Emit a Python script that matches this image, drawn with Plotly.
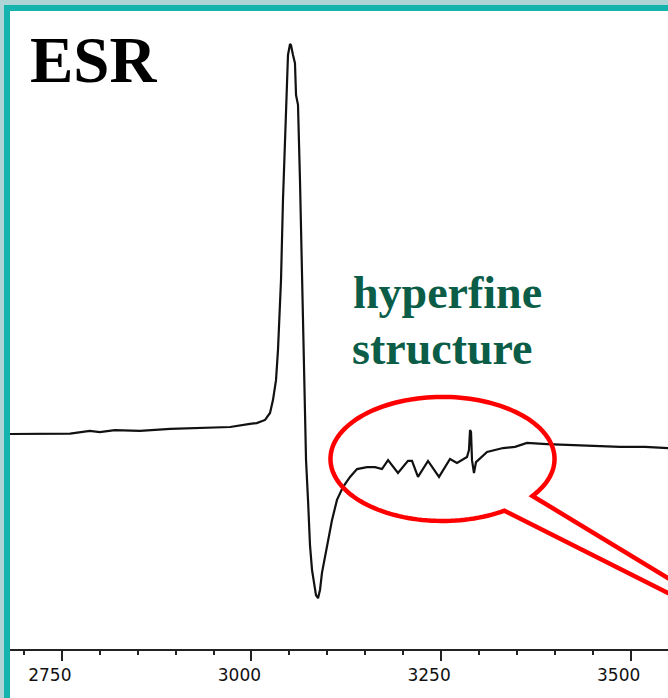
import numpy as np
import plotly.graph_objects as go

# ---------------- data ----------------
field_G = [2681.7, 2721, 2761, 2787, 2800, 2820, 2853, 2893, 2932, 2972,
           2998, 3007, 3018, 3024.5, 3028.4, 3032.4, 3035.0, 3039.0, 3041.6, 3044.3,
           3046.2, 3048.2, 3050.9, 3052.2, 3054.8, 3057.4, 3058.8, 3061.4, 3064.0, 3066.7,
           3069.3, 3070.6, 3072.0, 3074.6, 3077.2, 3079.9, 3082.5, 3085.1, 3087.8, 3090.4,
           3093.0, 3099.6, 3106.2, 3112.8, 3120.7, 3130.0, 3139.2, 3152.4, 3162.9, 3172.1,
           3180.1, 3193.2, 3206.4, 3211.7, 3219.6, 3232.8, 3247.3, 3261.8, 3271.0, 3284.2,
           3286.8, 3288.2, 3289.5, 3290.8, 3293.4, 3296.1, 3298.7, 3310.6, 3321.1, 3331.7,
           3347.5, 3363.3, 3389.7, 3416.1, 3446.4, 3485.9, 3518.9, 3549.2]
intensity = [0.0, 0.0, 0.1, 0.8, 0.5, 1.0, 0.8, 1.3, 1.5, 1.8,
             2.6, 2.8, 3.6, 5.4, 8.7, 13.8, 21.5, 39.5, 60.0, 77.9,
             88.2, 97.2, 100.0, 99.7, 97.2, 95.1, 86.9, 84.4, 65.1, 39.5,
             21.5, 8.7, -6.7, -16.9, -28.5, -34.9, -38.7, -41.3, -42.1, -40.0,
             -35.6, -29.0, -22.1, -16.9, -13.6, -11.0, -9.0, -8.5, -8.5, -9.0,
             -6.7, -10.0, -6.9, -6.9, -11.0, -6.9, -11.0, -6.4, -7.4, -5.9,
             -4.1, 1.0, 0.5, -6.7, -10.0, -7.2, -6.7, -4.6, -4.1, -3.6,
             -3.3, -2.3, -2.6, -2.8, -3.1, -3.3, -3.3, -3.6]

major_ticks = [2750, 3000, 3250, 3500]
tick_labels = ["2750", "3000", "3250", "3500"]
minor_step = 50

title_text = "ESR"
note_lines = ["hyperfine", "structure"]

# highlight ellipse around the hyperfine lines (data units)
ell_center = (3251.9, -6.4)
ell_semi = (147.7, 15.9)
tail_upper_end = (3591.4, -41.9)
tail_lower_end = (3591.4, -44.9)

# ---------------- layout constants ----------------
W, H = 668, 698
ML, MT, MR, MB = 10, 10, 0, 49
x_range = [2681.7, 3549.2]
y_range = [-55.13, 108.72]
PW, PH = W - ML - MR, H - MT - MB


def px_x(px):
    return (px - ML) / PW


def px_y(py):
    return (H - MB - py) / PH


fig = go.Figure()
fig.add_trace(go.Scatter(x=field_G, y=intensity, mode="lines",
                         line=dict(color="#111111", width=2.2),
                         hoverinfo="skip", showlegend=False))

shapes = []
light = "#aed4d6"
teal = "#14b3ae"
shapes.append(dict(type="rect", xref="paper", yref="paper", x0=px_x(0), x1=px_x(4),
                   y0=px_y(H), y1=px_y(0), fillcolor=light, line_width=0, layer="above"))
shapes.append(dict(type="rect", xref="paper", yref="paper", x0=px_x(0), x1=px_x(W),
                   y0=px_y(5), y1=px_y(0), fillcolor=light, line_width=0, layer="above"))
shapes.append(dict(type="rect", xref="paper", yref="paper", x0=px_x(4), x1=px_x(10),
                   y0=px_y(H), y1=px_y(5), fillcolor=teal, line_width=0, layer="above"))
shapes.append(dict(type="rect", xref="paper", yref="paper", x0=px_x(4), x1=px_x(W),
                   y0=px_y(11), y1=px_y(5), fillcolor=teal, line_width=0, layer="above"))

th = np.deg2rad(np.linspace(56.5, 396.6, 140))
ex = ell_center[0] + ell_semi[0] * np.cos(th)
ey = ell_center[1] - ell_semi[1] * np.sin(th)
path = "M {:.2f},{:.3f} ".format(*tail_lower_end)
path += " ".join("L {:.2f},{:.3f}".format(a, b) for a, b in zip(ex, ey))
path += " L {:.2f},{:.3f}".format(*tail_upper_end)
shapes.append(dict(type="path", xref="x", yref="y", path=path,
                   line=dict(color="#ff0000", width=4.5), layer="above"))

annotations = [
    dict(text="<b>%s</b>" % title_text, xref="paper", yref="paper",
         x=px_x(28), y=px_y(60), xanchor="left", yanchor="middle", showarrow=False,
         font=dict(family="Liberation Serif, Times New Roman, serif", size=65, color="#000000")),
    dict(text="<b>%s</b>" % note_lines[0], xref="paper", yref="paper",
         x=px_x(351), y=px_y(292), xanchor="left", yanchor="middle", showarrow=False,
         font=dict(family="Liberation Serif, Times New Roman, serif", size=46, color="#0b5d47")),
    dict(text="<b>%s</b>" % note_lines[1], xref="paper", yref="paper",
         x=px_x(350), y=px_y(348), xanchor="left", yanchor="middle", showarrow=False,
         font=dict(family="Liberation Serif, Times New Roman, serif", size=46, color="#0b5d47")),
]

fig.update_layout(
    width=W, height=H,
    margin=dict(l=ML, r=MR, t=MT, b=MB, pad=0),
    paper_bgcolor="#ffffff", plot_bgcolor="#ffffff",
    shapes=shapes, annotations=annotations, showlegend=False,
    xaxis=dict(range=x_range, showgrid=False, zeroline=False,
               showline=True, linecolor="#222222", linewidth=2,
               tickmode="array", tickvals=major_ticks, ticktext=tick_labels,
               ticks="outside", ticklen=10, tickwidth=1.6, tickcolor="#222222",
               ticklabelshift=-12,
               tickfont=dict(family="DejaVu Sans, sans-serif", size=17, color="#111111"),
               minor=dict(dtick=minor_step, tick0=2750, ticks="outside", ticklen=4,
                          tickwidth=1.6, tickcolor="#222222", showgrid=False)),
    yaxis=dict(range=y_range, visible=False, showgrid=False, zeroline=False),
)

fig.write_html("out.html", config=dict(displayModeBar=False),
               post_script="document.body.style.margin='0px';document.body.style.overflow='hidden';")
